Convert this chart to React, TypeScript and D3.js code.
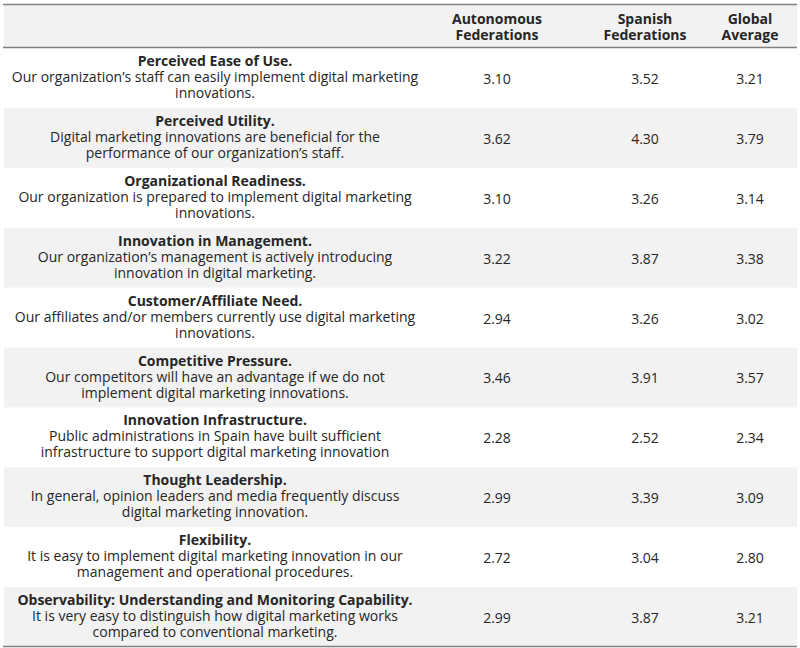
import React from "react";
import * as d3 from "d3";

const titles = [
  "Perceived Ease of Use.",
  "Perceived Utility.",
  "Organizational Readiness.",
  "Innovation in Management.",
  "Customer/Affiliate Need.",
  "Competitive Pressure.",
  "Innovation Infrastructure.",
  "Thought Leadership.",
  "Flexibility.",
  "Observability: Understanding and Monitoring Capability.",
];

const descriptions = [
  ["Our organization\u2019s staff can easily implement digital marketing", "innovations."],
  ["Digital marketing innovations are beneficial for the", "performance of our organization\u2019s staff."],
  ["Our organization is prepared to implement digital marketing", "innovations."],
  ["Our organization\u2019s management is actively introducing", "innovation in digital marketing."],
  ["Our affiliates and/or members currently use digital marketing", "innovations."],
  ["Our competitors will have an advantage if we do not", "implement digital marketing innovations."],
  ["Public administrations in Spain have built sufficient", "infrastructure to support digital marketing innovation"],
  ["In general, opinion leaders and media frequently discuss", "digital marketing innovation."],
  ["It is easy to implement digital marketing innovation in our", "management and operational procedures."],
  ["It is very easy to distinguish how digital marketing works", "compared to conventional marketing."],
];

const headers = [
  ["Autonomous", "Federations"],
  ["Spanish", "Federations"],
  ["Global", "Average"],
];

const autonomous = [3.10, 3.62, 3.10, 3.22, 2.94, 3.46, 2.28, 2.99, 2.72, 2.99];
const spanish = [3.52, 4.30, 3.26, 3.87, 3.26, 3.91, 2.52, 3.39, 3.04, 3.87];
const globalAvg = [3.21, 3.79, 3.14, 3.38, 3.02, 3.57, 2.34, 3.09, 2.80, 3.21];

const W = 800;
const H = 648;
const FONT = "'Open Sans', 'Noto Sans', sans-serif";
const TEXT = "#262626";

export default function App() {
  const left = 3;
  const right = 797;
  const top = 4;
  const headerBottom = 48;
  const bottom = 647;

  const y = d3
    .scaleBand<number>()
    .domain(d3.range(titles.length))
    .range([headerBottom, bottom])
    .padding(0);

  const colCenters = [215, 497, 645, 750];
  const series = [autonomous, spanish, globalAvg];
  const fmt = d3.format(".2f");

  return (
    <svg
      width={W}
      height={H}
      style={{ position: "absolute", left: 0, top: 0, display: "block" }}
      fontFamily={FONT}
    >
      <rect x={0} y={0} width={W} height={H} fill="#ffffff" />
      <rect x={left + 1} y={top} width={right - left - 1} height={headerBottom - top} fill="#f2f2f2" />
      {titles.map((_, i) =>
        i % 2 === 1 ? (
          <rect
            key={"bg" + i}
            x={left + 1}
            y={y(i)!}
            width={right - left - 1}
            height={y.bandwidth()}
            fill="#f2f2f2"
          />
        ) : null
      )}
      {/* header */}
      {headers.map((h, j) => (
        <text
          key={"h" + j}
          x={colCenters[j + 1]}
          textAnchor="middle"
          fontSize={14}
          fontWeight={700}
          fill={TEXT}
        >
          {h.map((line, k) => (
            <tspan key={k} x={colCenters[j + 1]} y={top + 20 + k * 16}>
              {line}
            </tspan>
          ))}
        </text>
      ))}
      {/* rows */}
      {titles.map((t, i) => {
        const y0 = y(i)!;
        return (
          <g key={"r" + i}>
            <text x={colCenters[0]} y={y0 + 18} textAnchor="middle" fontSize={14} fontWeight={700} fill={TEXT}>
              {t}
            </text>
            {descriptions[i].map((line, k) => (
              <text
                key={k}
                x={colCenters[0]}
                y={y0 + 34 + k * 16}
                textAnchor="middle"
                fontSize={14}
                fill={TEXT}
              >
                {line}
              </text>
            ))}
            {series.map((s, j) => (
              <text
                key={"v" + j}
                x={colCenters[j + 1]}
                y={y0 + y.bandwidth() / 2 + 6}
                textAnchor="middle"
                fontSize={14}
                fill={TEXT}
              >
                {fmt(s[i])}
              </text>
            ))}
          </g>
        );
      })}
      {/* rules */}
      <line x1={left} x2={right} y1={top + 0.5} y2={top + 0.5} stroke="#808080" strokeWidth={1.5} />
      <line x1={left} x2={right} y1={headerBottom - 0.5} y2={headerBottom - 0.5} stroke="#808080" strokeWidth={1.5} />
      <line x1={left} x2={right} y1={bottom - 0.5} y2={bottom - 0.5} stroke="#808080" strokeWidth={1.5} />
    </svg>
  );
}
